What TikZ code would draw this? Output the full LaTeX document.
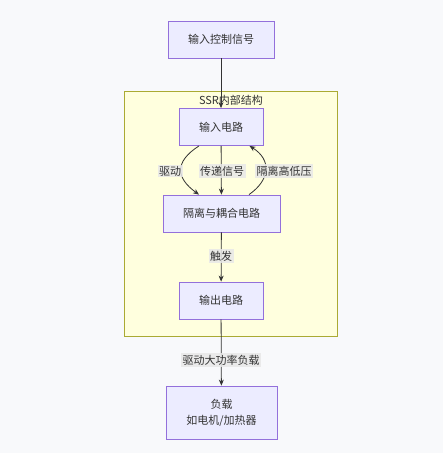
\documentclass[tikz,border=0pt]{standalone}
\usepackage{fontspec}
\setmainfont{Noto Sans CJK SC}
\usetikzlibrary{arrows.meta}
\definecolor{bgc}{RGB}{248,249,251}
\definecolor{nodefill}{RGB}{236,236,255}
\definecolor{nodeline}{RGB}{147,112,219}
\definecolor{clfill}{RGB}{255,255,222}
\definecolor{clline}{RGB}{170,170,51}
\definecolor{edgec}{RGB}{51,51,51}
\definecolor{lblbg}{RGB}{232,232,232}
\tikzset{
  box/.style={draw=nodeline, fill=nodefill, line width=0.8pt, inner sep=0pt, text=edgec, align=center, font=\fontsize{11}{16}\selectfont},
  conn/.style={draw=edgec, line width=0.8pt, -{Stealth[length=6pt,width=5pt]}},
  lbl/.style={fill=lblbg, fill opacity=0.85, text opacity=1, text=edgec, inner sep=1.5pt, font=\fontsize{11}{13}\selectfont},
}
\begin{document}
\begin{tikzpicture}[x=1pt,y=-1pt]
\fill[bgc] (0,0) rectangle (443,453);
\useasboundingbox (0,0) rectangle (443,453);
% cluster
\draw[draw=clline, fill=clfill, line width=0.8pt] (124,91) rectangle (337,336);
\node[text=edgec, font=\fontsize{11}{13}\selectfont] (cl) at (231,100) {SSR内部结构};
% nodes
\node[box, minimum width=106pt, minimum height=37pt] (in) at (221,39.5) {输入控制信号};
\node[box, minimum width=84pt, minimum height=37pt] (ic) at (221,127) {输入电路};
\node[box, minimum width=117pt, minimum height=37pt] (iso) at (221.5,213.5) {隔离与耦合电路};
\node[box, minimum width=84pt, minimum height=37pt] (oc) at (221,300.5) {输出电路};
\node[box, minimum width=111pt, minimum height=53pt] (load) at (221.5,412.5) {负载\\如电机/加热器};
% edges
\draw[conn] (in) -- (ic);
\path (ic.south) ++(-22,0) coordinate (a1) (iso.north) ++(-22.5,0) coordinate (a2);
\draw[conn] (a1) .. controls (174,162) and (176,178) .. (a2);
\node[lbl] (l1) at (170,171) {驱动};
\draw[conn] (ic) -- (iso);
\node[lbl] (l2) at (222,171) {传递信号};
\path (iso.north) ++(27.5,0) coordinate (b1) (ic.south) ++(28.5,0) coordinate (b2);
\draw[conn] (b1) .. controls (270,180) and (272,160) .. (b2);
\node[lbl] (l3) at (284,171) {隔离高低压};
\draw[conn] (iso) -- (oc);
\node[lbl] (l4) at (221,256) {触发};
\draw[conn] (oc) -- (load);
\node[lbl] (l5) at (221,360) {驱动大功率负载};
\end{tikzpicture}
\end{document}
